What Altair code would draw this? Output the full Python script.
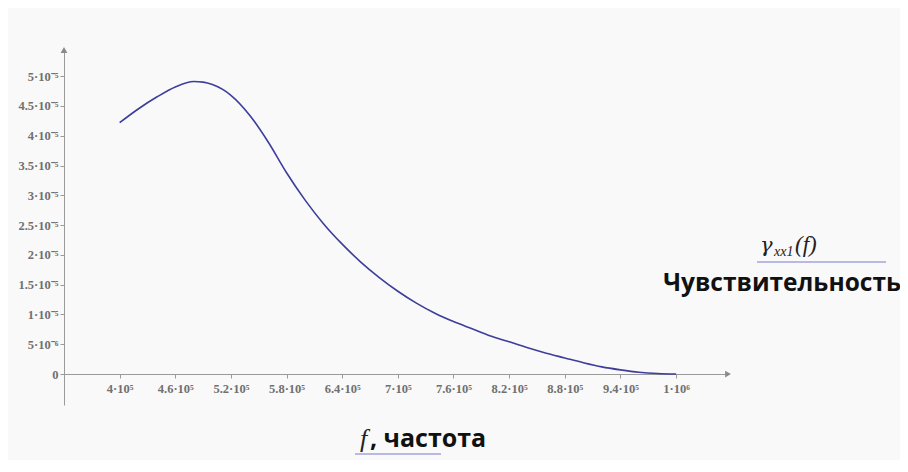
import altair as alt
import pandas as pd

# ---- data ----
freq = [400000, 420000, 440000, 460000, 480000, 490000, 500000, 520000, 540000,
        560000, 580000, 600000, 620000, 640000, 660000, 680000, 700000, 720000,
        740000, 760000, 780000, 800000, 820000, 840000, 860000, 880000, 900000,
        920000, 940000, 960000, 980000, 1000000]
sens = [4.22e-5, 4.45e-5, 4.65e-5, 4.82e-5, 4.91e-5, 4.90e-5, 4.86e-5, 4.68e-5, 4.35e-5,
        3.90e-5, 3.38e-5, 2.92e-5, 2.52e-5, 2.18e-5, 1.88e-5, 1.62e-5, 1.39e-5, 1.19e-5,
        1.02e-5, 0.88e-5, 0.76e-5, 0.64e-5, 0.54e-5, 0.44e-5, 0.35e-5, 0.27e-5, 0.19e-5,
        0.12e-5, 0.07e-5, 0.03e-5, 0.008e-5, 0.0]

x_ticks = [400000, 460000, 520000, 580000, 640000, 700000, 760000, 820000, 880000, 940000, 1000000]
x_tick_labels = ["4·10⁵", "4.6·10⁵", "5.2·10⁵", "5.8·10⁵", "6.4·10⁵", "7·10⁵",
                 "7.6·10⁵", "8.2·10⁵", "8.8·10⁵", "9.4·10⁵", "1·10⁶"]
y_ticks = [0.0, 5e-6, 1e-5, 1.5e-5, 2e-5, 2.5e-5, 3e-5, 3.5e-5, 4e-5, 4.5e-5, 5e-5]
y_tick_labels = ["0", "5·10⁻⁶", "1·10⁻⁵", "1.5·10⁻⁵", "2·10⁻⁵", "2.5·10⁻⁵",
                 "3·10⁻⁵", "3.5·10⁻⁵", "4·10⁻⁵", "4.5·10⁻⁵", "5·10⁻⁵"]

x_domain = [340000, 1056000]
y_domain = [-5.2e-6, 5.44e-5]

y_name = ["γ", "xx1", "(f)"]
y_caption = ["Чувствительность"]
x_name = ["f", ", частота"]

# ---- styles ----
W, H = 664, 355
axis_gray = "#9a9a9a"
label_gray = "#707070"
curve_color = "#3d3d9c"
underline_color = "#7b7bd0"

df = pd.DataFrame({"f": freq, "s": sens})


def label_expr(vals, labels):
    # index of the tick = (value - first) / step, rounded
    step = vals[1] - vals[0]
    arr = "[" + ",".join("'" + l + "'" for l in labels) + "]"
    return "{}[round((datum.value - ({})) / ({}))]".format(arr, repr(vals[0]), repr(step))


xscale = alt.Scale(domain=x_domain, nice=False, zero=False)
yscale = alt.Scale(domain=y_domain, nice=False, zero=False)

x_axis = alt.Axis(values=x_ticks, tickCount=len(x_ticks) + 2,
                  labelExpr=label_expr(x_ticks, x_tick_labels), title=None,
                  grid=False, offset=-31, domainColor=axis_gray, tickColor=axis_gray,
                  labelColor=label_gray, labelFont="Liberation Serif", labelFontSize=12.5,
                  tickSize=4, labelPadding=4, labelFontWeight="bold", labelOverlap=False)
y_axis = alt.Axis(values=y_ticks, tickCount=len(y_ticks) + 2,
                  labelExpr=label_expr(y_ticks, y_tick_labels), title=None,
                  grid=False, domainColor=axis_gray, tickColor=axis_gray,
                  labelColor=label_gray, labelFont="Liberation Serif", labelFontSize=12.5,
                  tickSize=4, labelPadding=2, labelFontWeight="bold", labelOverlap=False)

curve = alt.Chart(df).mark_line(color=curve_color, strokeWidth=1.6, interpolate="monotone").encode(
    x=alt.X("f:Q", scale=xscale, axis=x_axis),
    y=alt.Y("s:Q", scale=yscale, axis=y_axis),
)

arrows_df = pd.DataFrame({"f": [x_domain[1], x_domain[0]], "s": [0.0, y_domain[1]],
                          "shape": ["triangle-right", "triangle-up"]})
arrows = alt.Chart(arrows_df).mark_point(filled=True, size=45, color="#8a8a8a", opacity=1).encode(
    x=alt.X("f:Q", scale=xscale),
    y=alt.Y("s:Q", scale=yscale),
    shape=alt.Shape("shape:N", scale=None, legend=None),
)


def text_layer(txt, x, y, **kw):
    return alt.Chart(pd.DataFrame({"t": [txt]})).mark_text(baseline="alphabetic", **kw).encode(
        text="t:N", x=alt.value(x), y=alt.value(y))


def hline(x1, x2, y):
    return alt.Chart(pd.DataFrame({"a": [0]})).mark_rule(color=underline_color, strokeWidth=1.2).encode(
        x=alt.value(x1), x2=alt.value(x2), y=alt.value(y))


texts = [
    text_layer(y_name[0], 696, 202, align="left", font="DejaVu Serif", fontStyle="italic", fontSize=21, color="#222"),
    text_layer(y_name[1], 710, 206, align="left", font="Liberation Serif", fontStyle="italic", fontSize=14, color="#222"),
    text_layer(y_name[2], 731, 202, align="left", font="Liberation Serif", fontStyle="italic", fontSize=23, color="#222"),
    hline(693, 822, 212),
    text_layer(y_caption[0], 837, 241, align="right", font="Open Sans", fontWeight="bold", fontSize=24.5, color="#111"),
    text_layer(x_name[0], 296, 397, align="left", font="Liberation Serif", fontStyle="italic", fontSize=26, color="#222"),
    text_layer(x_name[1], 306, 397, align="left", font="Open Sans", fontWeight="bold", fontSize=25, color="#111"),
    hline(291, 377, 404),
]

chart = alt.layer(curve, arrows, *texts).properties(
    width=W, height=H,
    padding={"left": 56, "top": 42, "right": 172, "bottom": 55},
    autosize=alt.AutoSizeParams(type="none"),
    background="#f8f9f8",
).configure_view(stroke=None)

chart.save("out.html", embed_options={"renderer": "svg", "actions": False})
